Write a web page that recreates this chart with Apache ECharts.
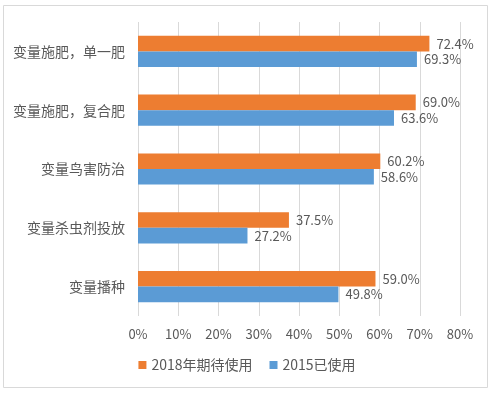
<!DOCTYPE html>
<html><head><meta charset="utf-8">
<script src="https://cdn.jsdelivr.net/npm/echarts@6/dist/echarts.min.js"></script>
<style>html,body{margin:0;padding:0;background:#fff}#c{width:494px;height:393px}</style>
</head><body><div id="c"></div>
<script>
const categories = ['变量施肥，单一肥','变量施肥，复合肥','变量鸟害防治','变量杀虫剂投放','变量播种'];
const seriesNames = ['2018年期待使用','2015已使用'];
const expected2018 = [72.4, 69.0, 60.2, 37.5, 59.0];
const used2015 = [69.3, 63.6, 58.6, 27.2, 49.8];
const xTicks = [0,10,20,30,40,50,60,70,80];

const chart = echarts.init(document.getElementById('c'), null, {renderer:'canvas'});
const font = '"Noto Sans CJK SC", "Noto Sans", sans-serif';
const lbl = {show:true, position:'right', distance:7, color:'#595959', fontSize:13, fontFamily:font,
  formatter: p => p.value.toFixed(1) + '%'};
chart.setOption({
  animation:false,
  textStyle:{fontFamily:font},
  graphic:[{type:'rect', shape:{x:3.5,y:5.5,width:484,height:382}, style:{fill:'none', stroke:'#d9d9d9', lineWidth:1}}],
  grid:{left:138, right:34, top:22, bottom:77, containLabel:false},
  legend:{data:seriesNames, bottom:16, left:'center', itemWidth:8, itemHeight:8, itemGap:17, icon:'rect',
    textStyle:{color:'#595959', fontSize:14, fontFamily:font}},
  xAxis:{type:'value', min:0, max:xTicks[xTicks.length-1], interval:10,
    axisLine:{show:false}, axisTick:{show:false},
    splitLine:{lineStyle:{color:'#d9d9d9'}},
    axisLabel:{formatter: v => v + '%', color:'#595959', fontSize:13, margin:12, fontFamily:font}},
  yAxis:{type:'category', data:categories, inverse:true,
    axisLine:{show:false}, axisTick:{show:false},
    axisLabel:{color:'#595959', fontSize:14, margin:13, fontFamily:font}},
  series:[
    {name:seriesNames[0], type:'bar', data:expected2018, itemStyle:{color:'#ED7D31'}, barGap:'0%', barCategoryGap:'47%', label:lbl},
    {name:seriesNames[1], type:'bar', data:used2015, itemStyle:{color:'#5B9BD5'}, barGap:'0%', barCategoryGap:'47%', label:lbl}
  ]
});
</script></body></html>
